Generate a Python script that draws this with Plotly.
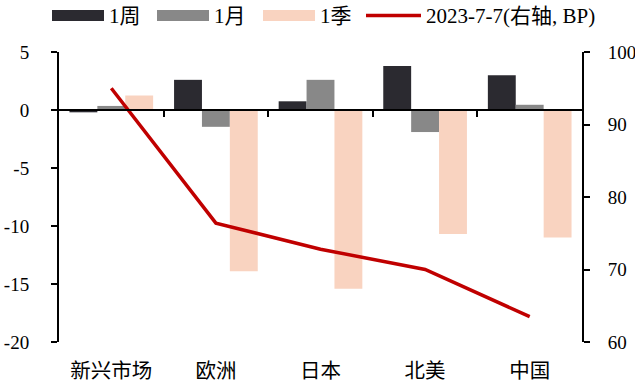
import plotly.graph_objects as go

# Regions and weekly / monthly / quarterly changes (left axis)
regions = ["新兴市场", "欧洲", "日本", "北美", "中国"]
week = [-0.2, 2.6, 0.75, 3.8, 3.0]
month = [0.35, -1.45, 2.6, -1.9, 0.45]
quarter = [1.25, -13.9, -15.4, -10.7, -11.0]
# Level on 2023-7-7, right axis (BP)
level = [95.0, 76.4, 72.8, 70.0, 63.5]

left_ticks = [-20, -15, -10, -5, 0, 5]
left_ticktext = ["-20", "-15", "-10", "-5", "0", "5"]
right_ticks = [60, 70, 80, 90, 100]

series_names = ["1周", "1月", "1季", "2023-7-7(右轴, BP)"]
C_WEEK = "#2B2A30"
C_MONTH = "#888888"
C_QUARTER = "#F9D3C0"
C_LINE = "#C00000"

W, H = 635, 385
ML, MR, MT, MB = 59, 53, 52, 43
PW, PH = W - ML - MR, H - MT - MB

NUM_FONT = "Liberation Serif, Noto Sans CJK SC"
CJK_FONT = "Noto Sans CJK SC"


def px_x(x):
    return (x - ML) / PW


def px_y(y):
    return (H - MB - y) / PH


fig = go.Figure()
fig.add_trace(go.Bar(x=regions, y=week, name=series_names[0], marker_color=C_WEEK,
                     marker_line_width=0))
fig.add_trace(go.Bar(x=regions, y=month, name=series_names[1], marker_color=C_MONTH,
                     marker_line_width=0))
fig.add_trace(go.Bar(x=regions, y=quarter, name=series_names[2], marker_color=C_QUARTER,
                     marker_line_width=0))
fig.add_trace(go.Scatter(x=regions, y=level, name=series_names[3], yaxis="y2",
                         mode="lines", line=dict(color=C_LINE, width=3.5)))
# empty trace so the zero-line axis with boundary ticks is rendered
fig.add_trace(go.Scatter(x=[], y=[], xaxis="x2", yaxis="y", showlegend=False,
                         hoverinfo="skip"))

fig.update_layout(
    width=W, height=H,
    margin=dict(l=ML, r=MR, t=MT, b=MB, autoexpand=False),
    paper_bgcolor="white", plot_bgcolor="white",
    barmode="group", bargap=0.2, bargroupgap=0,
    showlegend=False,
    font=dict(family=NUM_FONT, size=19, color="black"),
    xaxis=dict(
        type="category", categoryorder="array", categoryarray=regions,
        range=[-0.5, 4.5], showline=False, showgrid=False, zeroline=False,
        ticks="", tickfont=dict(family=CJK_FONT, size=20.5, color="black"),
        ticklabelstandoff=14, automargin=False,
    ),
    xaxis2=dict(
        overlaying="x", anchor="free", position=0.8, side="bottom",
        range=[-0.5, 4.5], showticklabels=False, showgrid=False, zeroline=False,
        showline=True, linecolor="black", linewidth=2,
        ticks="outside", tickvals=[0.5, 1.5, 2.5, 3.5], ticklen=6, tickwidth=2,
        tickcolor="black", automargin=False,
    ),
    yaxis=dict(
        range=[-20, 5], tickvals=left_ticks, ticktext=left_ticktext,
        showline=True, linecolor="black", linewidth=2, showgrid=False, zeroline=False,
        ticks="outside", ticklen=6, tickwidth=2, tickcolor="black",
        ticklabelstandoff=18, automargin=False,
    ),
    yaxis2=dict(
        overlaying="y", side="right", range=[60, 100], tickvals=right_ticks,
        showline=True, linecolor="black", linewidth=2, showgrid=False, zeroline=False,
        ticks="outside", ticklen=6, tickwidth=2, tickcolor="black",
        ticklabelstandoff=14, automargin=False,
    ),
)

# Legend row across the top
sw_top, sw_bot, txt_mid = 10, 21, 15.5
legend_items = [
    (52, 104, C_WEEK, "rect"),
    (157, 209, C_MONTH, "rect"),
    (263, 315, C_QUARTER, "rect"),
    (366, 421, C_LINE, "line"),
]
for (x0, x1, col, kind), label in zip(legend_items, series_names):
    if kind == "rect":
        fig.add_shape(type="rect", xref="paper", yref="paper",
                      x0=px_x(x0), x1=px_x(x1), y0=px_y(sw_bot), y1=px_y(sw_top),
                      fillcolor=col, line_width=0)
    else:
        fig.add_shape(type="line", xref="paper", yref="paper",
                      x0=px_x(x0), x1=px_x(x1), y0=px_y(txt_mid), y1=px_y(txt_mid),
                      line=dict(color=col, width=3.5))
    fig.add_annotation(text=label, xref="paper", yref="paper",
                       x=px_x(x1 + 4), y=px_y(txt_mid), xanchor="left", yanchor="middle",
                       showarrow=False, borderpad=0,
                       font=dict(family=NUM_FONT, size=21, color="black"))

fig.write_html("out.html")
